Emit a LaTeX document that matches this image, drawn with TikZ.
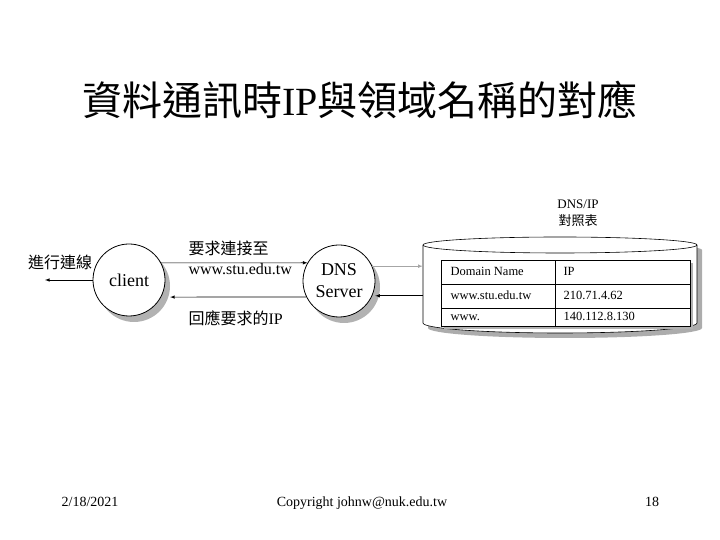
\documentclass[tikz,border=0pt]{standalone}
\usepackage{fontspec}
\setmainfont{Liberation Serif}
\newfontfamily\cjk{Noto Sans CJK TC}
\usetikzlibrary{positioning}
\usetikzlibrary{shadows}

\begin{document}
\begin{tikzpicture}[x=1pt,y=1pt,
  host/.style={circle,draw,fill=white,line width=.8pt,minimum size=72pt,inner sep=0pt,align=center,
    font=\fontsize{18}{22}\selectfont,
    drop shadow={shadow xshift=5pt,shadow yshift=-6pt,fill=gray!60,opacity=1}},
  msg/.style={anchor=west,font=\fontsize{16}{18}\selectfont},
  cell/.style={anchor=base west,font=\fontsize{12.5}{14}\selectfont},
  foot/.style={anchor=base,font=\fontsize{14}{16}\selectfont}]
\useasboundingbox (0,0) rectangle (720,540);

\node(title) at (360,440) {\fontsize{40}{44}\selectfont{\cjk 資料通訊時}IP{\cjk 與領域名稱的對應}};

\node(client)[host] at (129,260) {client};
\node(dns)[host] at (339,259) {DNS\\Server};

\node(conn)[msg, anchor=center] at (60,278) {\cjk 進行連線};
\coordinate(out) at (45,260);

\node(ask)[msg] at (185,292) {\cjk 要求連接至};
\node(url)[msg] at (185,271) {www.stu.edu.tw};
\node(reply)[msg] at (185,222) {{\cjk 回應要求的}IP};

\node(tlabel)[align=center, font=\fontsize{13}{17}\selectfont] at (578,327) {DNS/IP\\{\cjk 對照表}};

% cylinder
\fill[gray!65] (428,290) -- (428,212) arc[start angle=180,end angle=360,x radius=137,y radius=10]
  -- (702,290) arc[start angle=0,end angle=180,x radius=137,y radius=8] -- cycle;
\draw[fill=white,line width=.6pt] (423,295) -- (423,217) arc[start angle=180,end angle=360,x radius=137,y radius=10]
  -- (697,295) arc[start angle=0,end angle=180,x radius=137,y radius=8] -- cycle;
\draw[line width=.6pt] (423,295) arc[start angle=180,end angle=360,x radius=137,y radius=8];
\node(db)[minimum width=274pt,minimum height=90pt,inner sep=0pt] at (560,256) {};

% table
\fill[gray!60] (444,211) rectangle (693,277);
\draw[fill=white,line width=.6pt] (441,214) rectangle (690,280);
\draw[line width=.6pt] (555,214) -- (555,280);
\draw[line width=.6pt] (441,256) -- (690,256);
\draw[line width=.6pt] (441,232) -- (690,232);
\node(c11)[cell] at (447,264) {Domain Name};
\node(c12)[cell] at (560,264) {IP};
\node(c21)[cell] at (447,240) {www.stu.edu.tw};
\node(c22)[cell] at (560,240) {210.71.4.62};
\node(c31)[cell] at (447,219) {www.};
\node(c32)[cell] at (560,219) {140.112.8.130};

\draw[-latex, color=black,line width=.6pt] (client.west)--(out);
\draw[-latex, color=black,line width=.6pt] (client.28)--(dns.150);
\draw[-latex, color=black,line width=.6pt, shorten >=9pt] (dns.206)--(client.332);
\draw[-latex, color=gray!70,line width=.6pt] (dns.24)--(dns.24 -| db.west);
\draw[-latex, color=black,line width=.6pt, shorten >=3pt] (dns.336 -| db.west)--(dns.336);

\node(date)[foot] at (90,33) {2/18/2021};
\node(copy)[foot] at (362,33) {Copyright johnw@nuk.edu.tw};
\node(page)[foot] at (652,33) {18};
\end{tikzpicture}
\end{document}
